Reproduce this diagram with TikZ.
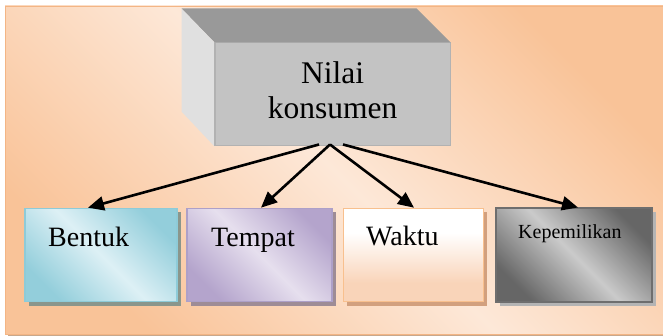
\documentclass[tikz,border=0pt]{standalone}
\usepackage{fontspec}
\setmainfont{Liberation Serif}
\usetikzlibrary{arrows.meta,shadows}

% palette
\definecolor{panelor}{HTML}{F9C398}
\definecolor{panellt}{HTML}{FDE8D8}
\definecolor{panelline}{HTML}{F3B585}
\definecolor{panelshade}{HTML}{C8A88C}
\definecolor{frontgray}{HTML}{C3C3C3}
\definecolor{frontline}{HTML}{B2B2B2}
\definecolor{topgray}{HTML}{999999}
\definecolor{sidegray}{HTML}{E0E0E0}
\definecolor{blueC}{HTML}{93CEDB}
\definecolor{blueL}{HTML}{DDF0F5}
\definecolor{blueB}{HTML}{8ECBD8}
\definecolor{blueS}{HTML}{8A968C}
\definecolor{lilaC}{HTML}{B4A4CC}
\definecolor{lilaL}{HTML}{E6DFEE}
\definecolor{lilaB}{HTML}{ADA0C8}
\definecolor{lilaS}{HTML}{9E8C96}
\definecolor{peachB}{HTML}{F8C08E}
\definecolor{peachF}{HTML}{F9D4B9}
\definecolor{peachS}{HTML}{D2A07E}
\definecolor{greyC}{HTML}{666666}
\definecolor{greyL}{HTML}{CACACA}
\definecolor{greyB}{HTML}{6E6E6E}
\definecolor{greyS}{HTML}{B4B4B4}

% white at the top, fading into peach below
\pgfdeclareverticalshading{waktushade}{100bp}{%
  color(0bp)=(peachF); color(35bp)=(peachF); color(62bp)=(white); color(100bp)=(white)}

\begin{document}
\begin{tikzpicture}[x=1pt,y=-1pt,
  frontface/.style={rectangle, draw=frontline, line width=1pt, fill=frontgray,
    minimum width=235pt, minimum height=103pt, inner sep=0pt},
  lowbox/.style={rectangle, line width=1.6pt, minimum height=93pt, inner sep=0pt},
  diagshade/.style 2 args={top color=#1, bottom color=#1, middle color=#2, shading angle=-45},
  boxshadow/.style={drop shadow={shadow xshift=3.5pt, shadow yshift=-4pt, opacity=1, fill=#1}},
  word/.style={anchor=base west, inner sep=0pt, font=\fontsize{28}{30}\selectfont},
  arr/.style={line width=2.6pt, -{Triangle[length=16pt,width=14pt]}}
]
\useasboundingbox (0,0) rectangle (663,336);
\fill[white] (0,0) rectangle (663,336);

% background panel with its thin shadow
\fill[panelshade] (8,9) rectangle (663,335.5);
\path[diagshade={panelor}{panellt}, draw=panelline, line width=0.8pt]
  (5,6) rectangle (663,334);

% the grey block: front, top and left faces
\node[frontface] (front) at (332.5,94.5) {};
\fill[topgray] (front.north west) -- ++(-33,-34) -- ++(235,0) -- (front.north east) -- cycle;
\fill[sidegray] (front.north west) -- ++(-33,-34) -- ++(0,103) -- (front.south west) -- cycle;
\draw[frontline, line width=1pt] (front.north west) -- (front.south west);
\node[align=center, inner sep=0pt, font=\fontsize{31.5}{35}\selectfont]
  (nilai) at ([yshift=4.7pt]front.center) {Nilai\\konsumen};

% the four boxes below
\node[lowbox, minimum width=152pt, draw=blueB, diagshade={blueC}{blueL}, boxshadow=blueS]
  (bentuk) at (101,255) {};
\node[lowbox, minimum width=145pt, draw=lilaB, diagshade={lilaC}{lilaL}, boxshadow=lilaS]
  (tempat) at (259.5,255) {};
\node[lowbox, minimum width=140pt, draw=peachB, shading=waktushade, boxshadow=peachS]
  (waktu) at (413.5,255) {};
\node[lowbox, minimum width=156pt, draw=greyB, line width=2pt, diagshade={greyC}{greyL}, boxshadow=greyS]
  (milik) at (574,255) {};

\node[word] (bentukt) at (48,247) {Bentuk};
\node[word] (tempatt) at (211,247) {Tempat};
\node[word] (waktut) at (366,246) {Waktu};
\node[word, font=\fontsize{20}{22}\selectfont] (milikt) at (518,238.5) {Kepemilikan};

% connectors
\draw[arr] ([xshift=-13.5pt,yshift=2pt]front.south) -- ([xshift=-13pt]bentuk.north);
\draw[arr] ([xshift=-2.5pt,yshift=2pt]front.south) -- ([xshift=1.5pt]tempat.north);
\draw[arr] ([xshift=-2.5pt,yshift=2pt]front.south) -- ([xshift=0.5pt]waktu.north);
\draw[arr] ([xshift=10.5pt,yshift=2pt]front.south) -- ([xshift=4pt]milik.north);
\end{tikzpicture}
\end{document}
